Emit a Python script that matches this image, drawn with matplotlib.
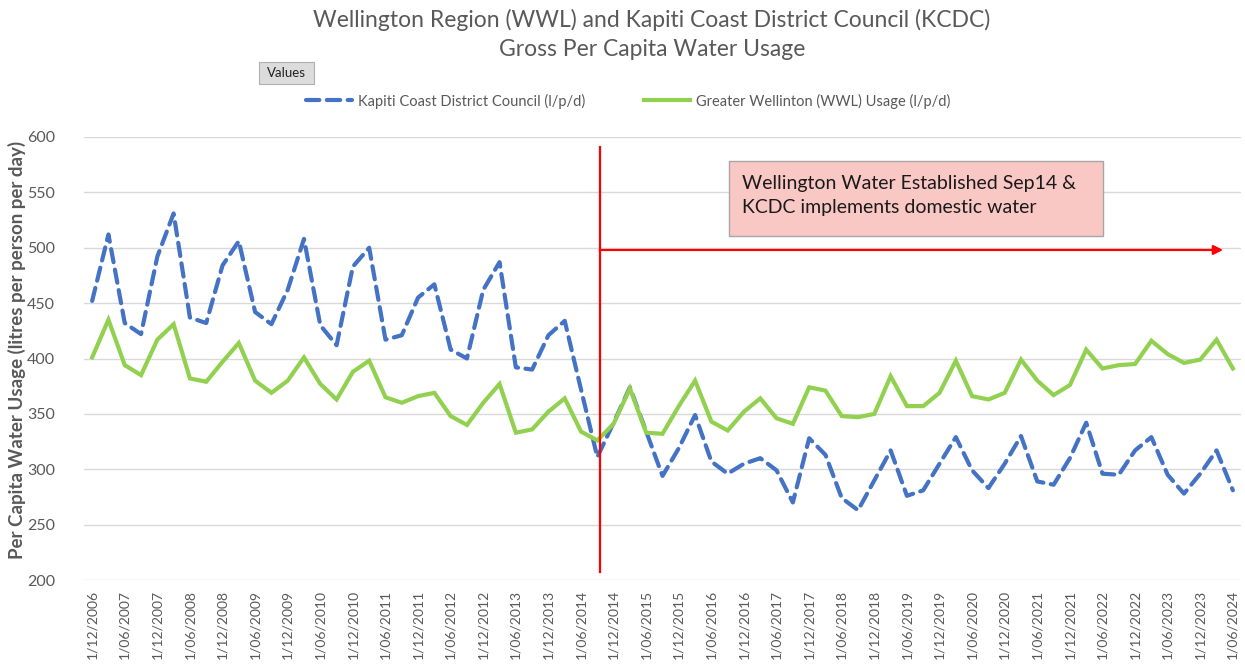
import numpy as np
import matplotlib
matplotlib.use("Agg")
import matplotlib.pyplot as plt
from matplotlib.patches import Rectangle, FancyBboxPatch

plt.rcParams['font.family'] = ['Lato', 'DejaVu Sans']

# quarterly readings, 1/12/2006 .. 1/06/2024
kcdc = [452, 512, 432, 422, 492, 531, 437, 432, 484, 506,
        442, 431, 462, 508, 430, 412, 483, 500, 417, 421,
        455, 467, 408, 400, 462, 487, 392, 390, 421, 434,
        372, 311, 342, 374, 334, 294, 319, 349, 307, 296,
        305, 310, 299, 270, 328, 313, 274, 263, 290, 317,
        276, 281, 305, 329, 299, 283, 305, 330, 289, 286,
        310, 342, 296, 295, 317, 329, 295, 278, 296, 317,
        281]
wwl = [401, 435, 394, 385, 417, 431, 382, 379, 397, 414,
       380, 369, 380, 401, 377, 363, 388, 398, 365, 360,
       366, 369, 348, 340, 360, 377, 333, 336, 352, 364,
       334, 326, 341, 373, 333, 332, 357, 380, 343, 335,
       352, 364, 346, 341, 374, 371, 348, 347, 350, 384,
       357, 357, 369, 398, 366, 363, 369, 399, 380, 367,
       376, 408, 391, 394, 395, 416, 404, 396, 399, 417,
       391]

tick_labels = ['1/12/2006', '1/06/2007', '1/12/2007', '1/06/2008', '1/12/2008',
               '1/06/2009', '1/12/2009', '1/06/2010', '1/12/2010', '1/06/2011',
               '1/12/2011', '1/06/2012', '1/12/2012', '1/06/2013', '1/12/2013',
               '1/06/2014', '1/12/2014', '1/06/2015', '1/12/2015', '1/06/2016',
               '1/12/2016', '1/06/2017', '1/12/2017', '1/06/2018', '1/12/2018',
               '1/06/2019', '1/12/2019', '1/06/2020', '1/12/2020', '1/06/2021',
               '1/12/2021', '1/06/2022', '1/12/2022', '1/06/2023', '1/12/2023',
               '1/06/2024']

sep14 = 31.15       # around 1/09/2014 (Wellington Water established)
arrow_y = 498
arrow_end = 69.4

grey = '#595959'
W, H = 1245, 669

fig = plt.figure(figsize=(W / 100, H / 100), dpi=100)
ax = fig.add_axes([84 / W, 1 - 580 / H, (1241 - 84) / W, (580 - 137) / H])

x = np.arange(len(kcdc))
ax.plot(x, kcdc, color='#4472C4', lw=3, dashes=[3.2, 1.8],
        dash_capstyle='round', label='Kapiti Coast District Council (l/p/d)', zorder=3)
ax.plot(x, wwl, color='#92D050', lw=3, solid_joinstyle='miter',
        label='Greater Wellinton (WWL) Usage (l/p/d)', zorder=3)

ax.set_xlim(-0.5, len(kcdc) - 0.5)
ax.set_ylim(200, 600)
ax.set_yticks(range(200, 601, 50))
ax.set_xticks(x[::2])
ax.set_xticklabels(tick_labels, rotation=90, fontsize=10, color=grey)
ax.tick_params(axis='both', length=0, labelcolor=grey)
ax.tick_params(axis='y', labelsize=11.5, pad=21)
ax.tick_params(axis='x', pad=7)
ax.grid(axis='y', color='#D9D9D9', lw=1)
ax.set_axisbelow(True)
for s in ax.spines.values():
    s.set_visible(False)

ax.set_ylabel('Per Capita Water Usage (litres per person per day)', fontsize=13.5,
              fontweight='bold', color=grey)
ax.yaxis.set_label_coords(-0.050, 0.519)

# event marker
ax.plot([sep14, sep14], [591, 207], color='red', lw=1.6, zorder=4, clip_on=False)
ax.annotate('', xy=(arrow_end, arrow_y), xytext=(sep14, arrow_y),
            arrowprops=dict(arrowstyle='-|>', color='red', lw=1.6,
                            mutation_scale=14, shrinkA=0, shrinkB=0), zorder=4)

box = Rectangle((729 / W, 1 - 236 / H), (1103 - 729) / W, (236 - 161) / H,
                transform=fig.transFigure, facecolor='#FAC8C4', edgecolor='#A6A6A6',
                lw=1, zorder=5)
fig.patches.append(box)
fig.text(742 / W, 1 - 183 / H, 'Wellington Water Established Sep14 &',
         fontsize=14, color='#1a1a1a', va='center', zorder=6)
fig.text(742 / W, 1 - 207 / H, 'KCDC implements domestic water',
         fontsize=14, color='#1a1a1a', va='center', zorder=6)

# titles
fig.text(652 / W, 1 - 20 / H, 'Wellington Region (WWL) and Kapiti Coast District Council (KCDC)',
         ha='center', va='center', fontsize=16.5, color=grey)
fig.text(652 / W, 1 - 50 / H, 'Gross Per Capita Water Usage',
         ha='center', va='center', fontsize=16.5, color=grey)

# "Values" field button
btn = FancyBboxPatch((259 / W, 1 - 84 / H), 55 / W, 22 / H, boxstyle='square,pad=0',
                     transform=fig.transFigure, facecolor='#DCDCDC',
                     edgecolor='#B0B0B0', lw=0.8)
fig.patches.append(btn)
fig.text(286 / W, 1 - 73 / H, 'Values', ha='center', va='center', fontsize=9.5, color='#222222')

leg = ax.legend(loc='center', bbox_to_anchor=(628 / W, 1 - 101 / H),
                bbox_transform=fig.transFigure, ncol=2, frameon=False,
                fontsize=10.5, handlelength=3.2, columnspacing=4, handletextpad=0.4)
for t in leg.get_texts():
    t.set_color(grey)

fig.savefig('out.png', dpi=100)
